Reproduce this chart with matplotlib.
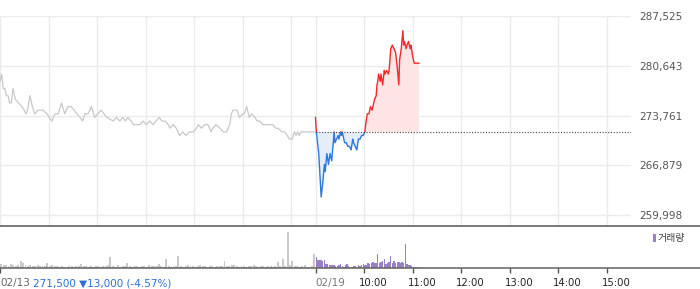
import matplotlib
matplotlib.use("Agg")
import matplotlib.pyplot as plt
import matplotlib.transforms as mtransforms
from matplotlib.patches import Rectangle
from matplotlib.lines import Line2D
import numpy as np

# 02/13 session: minutes after 09:00 and price
prev_min = [0, 2, 4, 6, 8, 10, 12, 14, 16, 19,
            23, 27, 30, 32, 34, 37, 40, 43, 47, 53,
            58, 61, 64, 68, 72, 76, 80, 84, 88, 95,
            99, 102, 105, 109, 111, 113, 117, 121, 125, 132,
            140, 144, 148, 152, 155, 158, 162, 165, 169, 173,
            177, 181, 185, 189, 193, 197, 200, 204, 208, 210,
            214, 218, 220, 222, 226, 230, 234, 239, 243, 245,
            249, 253, 257, 261, 263, 267, 272, 276, 280, 284,
            286, 288, 293, 296, 300, 302, 305, 308, 311, 315,
            318, 321, 325, 329, 333, 337, 341, 344, 348, 352,
            355, 358, 361, 364, 366, 368, 370, 372, 376, 383,
            389]
prev_price = [278500, 279500, 277500, 277500, 276500, 276500, 275500, 275500, 277500, 276000,
              275500, 275000, 274500, 274000, 274500, 276500, 275000, 274000, 274500, 274500,
              274000, 273500, 273000, 274000, 274000, 275500, 274000, 275000, 275000, 274000,
              273500, 273000, 274000, 274000, 274500, 275000, 273500, 274000, 274500, 273500,
              273000, 273500, 273000, 273500, 273000, 273500, 273000, 272500, 272500, 272500,
              273000, 272500, 273000, 272500, 273000, 273500, 273000, 273000, 272500, 272000,
              272500, 272000, 271500, 271000, 271500, 271000, 271500, 271500, 272000, 272500,
              272000, 272500, 272500, 271500, 272000, 272500, 272000, 271500, 271500, 272500,
              274000, 274500, 274500, 273500, 274000, 274000, 275000, 273500, 274000, 273500,
              273000, 273000, 272500, 272500, 272500, 272500, 272000, 272000, 271500, 271500,
              271000, 270500, 270500, 271500, 271000, 271500, 271000, 271500, 271500, 271500,
              271500]

# 02/19 session so far
today_min = [0, 1, 4, 7, 9, 11, 12, 14, 16, 18,
             20, 22, 23, 24, 26, 28, 29, 31, 32, 33,
             36, 38, 40, 42, 44, 46, 47, 49, 51, 53,
             55, 57, 59, 61, 62, 64, 66, 68, 70, 71,
             73, 75, 76, 77, 78, 80, 81, 83, 85, 86,
             88, 90, 91, 93, 95, 97, 99, 101, 103, 104,
             106, 108, 109, 110, 112, 113, 115, 117, 118, 120,
             122, 124, 128]
today_price = [273500, 271500, 268500, 262500, 264500, 267000, 266000, 268500, 267000, 268500,
               267500, 270000, 271500, 270000, 270500, 271000, 270500, 271500, 271000, 271500,
               270000, 270000, 269500, 269500, 269000, 270500, 270000, 269500, 269000, 270500,
               270500, 271000, 271000, 271500, 272500, 274000, 274000, 275000, 274500, 275000,
               276000, 276500, 278000, 278500, 279500, 278500, 279500, 278000, 280000, 279500,
               280000, 279500, 280000, 283000, 283500, 283000, 282500, 280500, 278000, 281500,
               283000, 285500, 283500, 284000, 283000, 283500, 284000, 283000, 283500, 282000,
               281000, 281000, 281000]

prev_close = 271500

# volume (thousand shares): 3-minute bins on 02/13, 2-minute bins on 02/19
prev_vol = [4, 3, 3, 2, 4, 3, 2, 3, 7, 5, 3, 2, 3, 2, 2, 3, 2, 2, 2, 5,
            2, 3, 2, 2, 1, 2, 1, 1, 2, 2, 1, 2, 2, 4, 2, 2, 1, 2, 1, 2,
            2, 1, 2, 2, 3, 11, 2, 1, 3, 1, 2, 2, 5, 2, 1, 2, 2, 1, 2, 2,
            1, 3, 2, 2, 2, 4, 2, 1, 9, 2, 1, 2, 2, 12, 2, 1, 2, 3, 2, 2,
            1, 2, 3, 2, 2, 1, 2, 2, 1, 2, 2, 2, 7, 2, 2, 3, 3, 2, 1, 2,
            2, 1, 2, 2, 3, 2, 1, 2, 2, 1, 2, 2, 1, 2, 6, 2, 9, 2, 36, 3,
            7, 2, 2, 1, 2, 3, 1, 1, 2, 14]
today_vol = [11, 8, 8, 8, 7, 8, 4, 4, 3, 3, 3, 3, 2, 2, 3, 4, 2, 1, 3, 4,
             2, 1, 1, 2, 2, 1, 3, 2, 3, 4, 3, 3, 5, 4, 5, 6, 5, 5, 14, 5,
             6, 7, 9, 4, 5, 6, 12, 5, 7, 5, 6, 6, 5, 6, 5, 24, 4, 3, 3, 2,
             1, 1, 1, 1]

y_ticks = [259998, 266879, 273761, 280643, 287525]
hour_labels = ["10:00", "11:00", "12:00", "13:00", "14:00", "15:00"]
prev_date = "02/13"
today_date = "02/19"
prev_summary = "271,500 \u25bc13,000 (-4.57%)"

session = 390  # minutes per session
W, H = 700, 289

fig = plt.figure(figsize=(7, 2.89), dpi=100)

# ---- price panel ----
ax = fig.add_axes([0, (H - 225) / H, 631 / W, 209 / H])
ax.set_xlim(0, 2 * session)
ax.set_ylim(258620, 287525)
for s in ax.spines.values():
    s.set_visible(False)
ax.set_axisbelow(True)
ax.set_xticks([60 * k for k in range(7)] + [session + 60 * k for k in range(7)])
ax.set_yticks(y_ticks)
ax.set_yticklabels([f"{v:,}" for v in y_ticks])
ax.yaxis.tick_right()
ax.tick_params(axis="x", length=0, labelbottom=False)
ax.tick_params(axis="y", length=0, pad=5.8, labelsize=7.6, labelcolor="#555555")
ax.grid(True, color="#ebebeb", linewidth=1)

ax.plot(prev_min, prev_price, color="#c6c8cc", linewidth=0.9)

t = np.array(today_min) + session
p = np.array(today_price)
ax.fill_between(t, p, prev_close, where=p >= prev_close, interpolate=True,
                color="#fde4e5", linewidth=0)
ax.fill_between(t, p, prev_close, where=p <= prev_close, interpolate=True,
                color="#e5edf9", linewidth=0)
up, = ax.plot(t, p, color="#f5282e", linewidth=1.0)
dn, = ax.plot(t, p, color="#2b78e0", linewidth=1.0)
up.set_clip_path(Rectangle((0, prev_close), 2 * session, 1e5, transform=ax.transData))
dn.set_clip_path(Rectangle((0, 0), 2 * session, prev_close, transform=ax.transData))
ax.hlines(prev_close, session, 2 * session, colors="#444444", linestyles=(0, (1, 1.5)),
          linewidth=0.8)

# ---- volume panel ----
av = fig.add_axes([0, (H - 268) / H, 631 / W, 42 / H])
av.set_xlim(0, 2 * session)
av.set_ylim(0, 42)
for s in av.spines.values():
    s.set_visible(False)
av.bar(np.arange(len(prev_vol)) * 3 + 1.5, prev_vol, width=2.4, color="#c9c9c9",
       linewidth=0)
av.bar(session + np.arange(len(today_vol)) * 2 + 1, today_vol, width=1.7,
       color="#9a80c9", linewidth=0)
av.set_yticks([])
hour_ticks = [session + 60 * (k + 1) for k in range(len(hour_labels))]
av.set_xticks([0, session] + hour_ticks)
av.set_xticklabels([])
av.tick_params(axis="x", direction="out", length=3.8, width=1, color="#555555")

lbl = mtransforms.blended_transform_factory(av.transData, av.transAxes)
av.text(0, -0.36, prev_date, transform=lbl, ha="left", va="center",
        fontsize=7.5, color="#666666")
av.text(0, -0.36, prev_summary,
        transform=mtransforms.offset_copy(lbl, fig=fig, x=33, y=0, units="dots"),
        ha="left", va="center", fontsize=7.5, color="#2b6fd6")
av.text(session, -0.36, today_date, transform=lbl, ha="left", va="center",
        fontsize=7.5, color="#777777")
shifted = mtransforms.offset_copy(lbl, fig=fig, x=-5, y=0, units="dots")
for x, s in zip(hour_ticks, hour_labels):
    av.text(x, -0.36, s, transform=shifted, ha="left", va="center",
            fontsize=7.3, color="#222222")

# full-width separators
fig.add_artist(Line2D([0, 1], [(H - 225.5) / H] * 2, transform=fig.transFigure,
                      color="#707070", linewidth=1.3))
fig.add_artist(Line2D([0, 1], [(H - 268.3) / H] * 2, transform=fig.transFigure,
                      color="#606060", linewidth=1.1))

# volume legend
fig.add_artist(Rectangle((653 / W, (H - 242) / H), 3 / W, 8 / H,
                         transform=fig.transFigure, color="#9a80c9", linewidth=0))
fig.text(658 / W, (H - 238) / H, "거래량", ha="left", va="center", fontsize=7.2,
         color="#444444", family=["Noto Sans CJK KR", "DejaVu Sans"])

fig.savefig("out.png", dpi=100)
